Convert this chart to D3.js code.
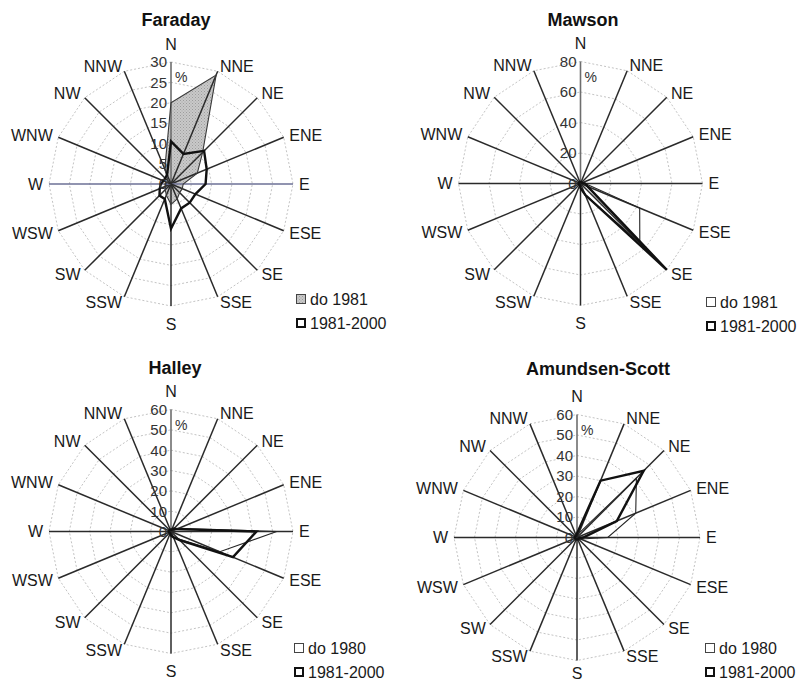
<!DOCTYPE html>
<html>
<head>
<meta charset="utf-8">
<script src="https://cdn.jsdelivr.net/npm/d3@7"></script>
<style>
  html, body { margin: 0; padding: 0; background: #ffffff; }
  svg { display: block; font-family: "Liberation Sans", Arial, sans-serif; }
</style>
</head>
<body>
<svg id="chart" width="802" height="683"></svg>
<script>
// ---------- data ----------
const directions = ["N","NNE","NE","ENE","E","ESE","SE","SSE","S","SSW","SW","WSW","W","WNW","NW","NNW"];

const faradayTicks = [0, 5, 10, 15, 20, 25, 30];
const faradayBefore = [20, 29, 11, 7, 3, 3, 3, 4, 5, 3, 2, 1.5, 1.5, 1, 1, 4];
const faradayAfter  = [10.5, 8, 11.5, 9.5, 8.5, 6.5, 6.5, 6.5, 11, 4, 4, 3, 2.5, 2, 2, 2.5];

const mawsonTicks = [0, 20, 40, 60, 80];
const mawsonBefore = [1, 1, 1, 2, 3, 42, 55, 8, 3, 1, 1, 1, 1, 1, 1, 1];
const mawsonAfter  = [1, 1, 1, 1, 3, 5, 80, 8, 3, 1, 1, 1, 1, 1, 1, 1];

const halleyTicks = [0, 10, 20, 30, 40, 50, 60];
const halleyBefore = [1, 1, 2, 4, 52, 26, 5, 3, 2, 1, 1, 1, 1, 1, 1, 1];
const halleyAfter  = [1, 1, 2, 3, 42, 33, 6, 3, 2, 1, 1, 1, 1, 1, 1, 1];

const amundsenTicks = [0, 10, 20, 30, 40, 50, 60];
const amundsenBefore = [1, 2, 41, 31, 15, 2, 1, 1, 1, 1, 1, 1, 1, 1, 1, 1];
const amundsenAfter  = [2, 30, 46, 21, 3, 1, 1, 1, 1, 1, 1, 1, 1, 1, 1, 1];

const titles = ["Faraday", "Mawson", "Halley", "Amundsen-Scott"];
const legendBefore = ["do 1981", "do 1981", "do 1980", "do 1980"];
const legendAfter = "1981-2000";

// ---------- layout ----------
const panels = [
  { title: titles[0], ticks: faradayTicks, before: faradayBefore, after: faradayAfter, legBefore: legendBefore[0],
    cx: 171, cy: 184, R: 122, tx: 176, ty: 26, lx: 296, ly: 299, filled: true, blueWE: true },
  { title: titles[1], ticks: mawsonTicks, before: mawsonBefore, after: mawsonAfter, legBefore: legendBefore[1],
    cx: 580.5, cy: 183.5, R: 122, tx: 583, ty: 26, lx: 706, ly: 302, filled: false },
  { title: titles[2], ticks: halleyTicks, before: halleyBefore, after: halleyAfter, legBefore: legendBefore[2],
    cx: 171, cy: 531.5, R: 122, tx: 175, ty: 374, lx: 294, ly: 648, filled: false },
  { title: titles[3], ticks: amundsenTicks, before: amundsenBefore, after: amundsenAfter, legBefore: legendBefore[3],
    cx: 577, cy: 537.5, R: 123, tx: 598, ty: 375, lx: 705, ly: 648, filled: false }
];

const W = 802, H = 683;
const svg = d3.select("#chart");
const defs = svg.append("defs");
const pat = defs.append("pattern").attr("id", "dots").attr("patternUnits", "userSpaceOnUse")
  .attr("width", 3).attr("height", 3);
pat.append("rect").attr("width", 3).attr("height", 3).attr("fill", "#c9c9c9");
pat.append("rect").attr("x", 0).attr("y", 0).attr("width", 1).attr("height", 1).attr("fill", "#9d9d9d");
pat.append("rect").attr("x", 1.5).attr("y", 1.5).attr("width", 1).attr("height", 1).attr("fill", "#a8a8a8");

const n = directions.length;
const angle = d3.scaleLinear().domain([0, n]).range([0, 2 * Math.PI]);

panels.forEach(p => {
  const maxV = p.ticks[p.ticks.length - 1];
  const r = d3.scaleLinear().domain([0, maxV]).range([0, p.R]);
  const g = svg.append("g").attr("transform", `translate(${p.cx},${p.cy})`);

  // title
  svg.append("text").attr("x", p.tx).attr("y", p.ty).attr("text-anchor", "middle")
    .attr("font-size", 18).attr("font-weight", "bold").attr("fill", "#111").text(p.title);

  // grid rings (16-gon)
  const ring = d3.lineRadial().angle((d, i) => angle(i)).radius(d => r(d)).curve(d3.curveLinearClosed);
  p.ticks.filter(t => t > 0).forEach(t => {
    g.append("path").attr("d", ring(directions.map(() => t)))
      .attr("fill", "none").attr("stroke", "#c4c4c4").attr("stroke-width", 1)
      .attr("stroke-dasharray", "2,2");
  });

  const line = d3.lineRadial().angle((d, i) => angle(i)).radius(d => r(d)).curve(d3.curveLinearClosed);

  // filled earlier series (Faraday)
  if (p.filled) {
    g.append("path").attr("d", line(p.before))
      .attr("fill", "url(#dots)").attr("stroke", "none");
  }

  // spokes
  directions.forEach((dname, i) => {
    const a = angle(i);
    let col = "#2a2a2a", w = 1.5;
    if (i === 0) { col = "#6e6e6e"; w = 1.6; }
    if (p.blueWE && (dname === "E" || dname === "W")) { col = "#6c7096"; w = 1.4; }
    g.append("line").attr("x1", 0).attr("y1", 0)
      .attr("x2", p.R * Math.sin(a)).attr("y2", -p.R * Math.cos(a))
      .attr("stroke", col).attr("stroke-width", w);
  });

  // series
  g.append("path").attr("d", line(p.before))
    .attr("fill", "none").attr("stroke", p.filled ? "#3a3a3a" : "#262626")
    .attr("stroke-width", 1.1).attr("stroke-linejoin", "miter");
  g.append("path").attr("d", line(p.after))
    .attr("fill", "none").attr("stroke", "#111").attr("stroke-width", 2.4)
    .attr("stroke-linejoin", "miter");

  // tick labels
  p.ticks.forEach(t => {
    g.append("text").attr("x", -4).attr("y", -r(t)).attr("dy", "0.36em")
      .attr("text-anchor", "end").attr("font-size", 15).attr("fill", "#333").text(t);
  });
  g.append("text").attr("x", 4).attr("y", -p.R + 15).attr("dy", "0.36em")
    .attr("font-size", 14).attr("fill", "#333").text("%");

  // direction labels
  directions.forEach((dname, i) => {
    const a = angle(i);
    const s = Math.sin(a), c = Math.cos(a);
    let off = 6, anchor = s > 0.1 ? "start" : (s < -0.1 ? "end" : "middle");
    if (Math.abs(s) < 0.1) off = 18;
    const x = (p.R + off) * s;
    let y = -(p.R + off) * c;
    y = Math.min(y, H - 10 - p.cy);
    g.append("text").attr("x", x).attr("y", y).attr("dy", "0.36em")
      .attr("text-anchor", anchor).attr("font-size", 16).attr("fill", "#1a1a1a").text(dname);
  });

  // legend
  const lg = svg.append("g").attr("transform", `translate(${p.lx},${p.ly})`);
  lg.append("rect").attr("x", 0.5).attr("y", -4.5).attr("width", 9).attr("height", 9)
    .attr("fill", p.filled ? "url(#dots)" : "#fff").attr("stroke", "#444").attr("stroke-width", 1);
  lg.append("text").attr("x", 14).attr("y", 0).attr("dy", "0.36em").attr("font-size", 16)
    .attr("fill", "#1a1a1a").text(p.legBefore);
  lg.append("rect").attr("x", 1).attr("y", 20).attr("width", 8).attr("height", 8)
    .attr("fill", "#fff").attr("stroke", "#111").attr("stroke-width", 2);
  lg.append("text").attr("x", 14).attr("y", 24).attr("dy", "0.36em").attr("font-size", 16)
    .attr("fill", "#1a1a1a").text(legendAfter);
});
</script>
</body>
</html>
